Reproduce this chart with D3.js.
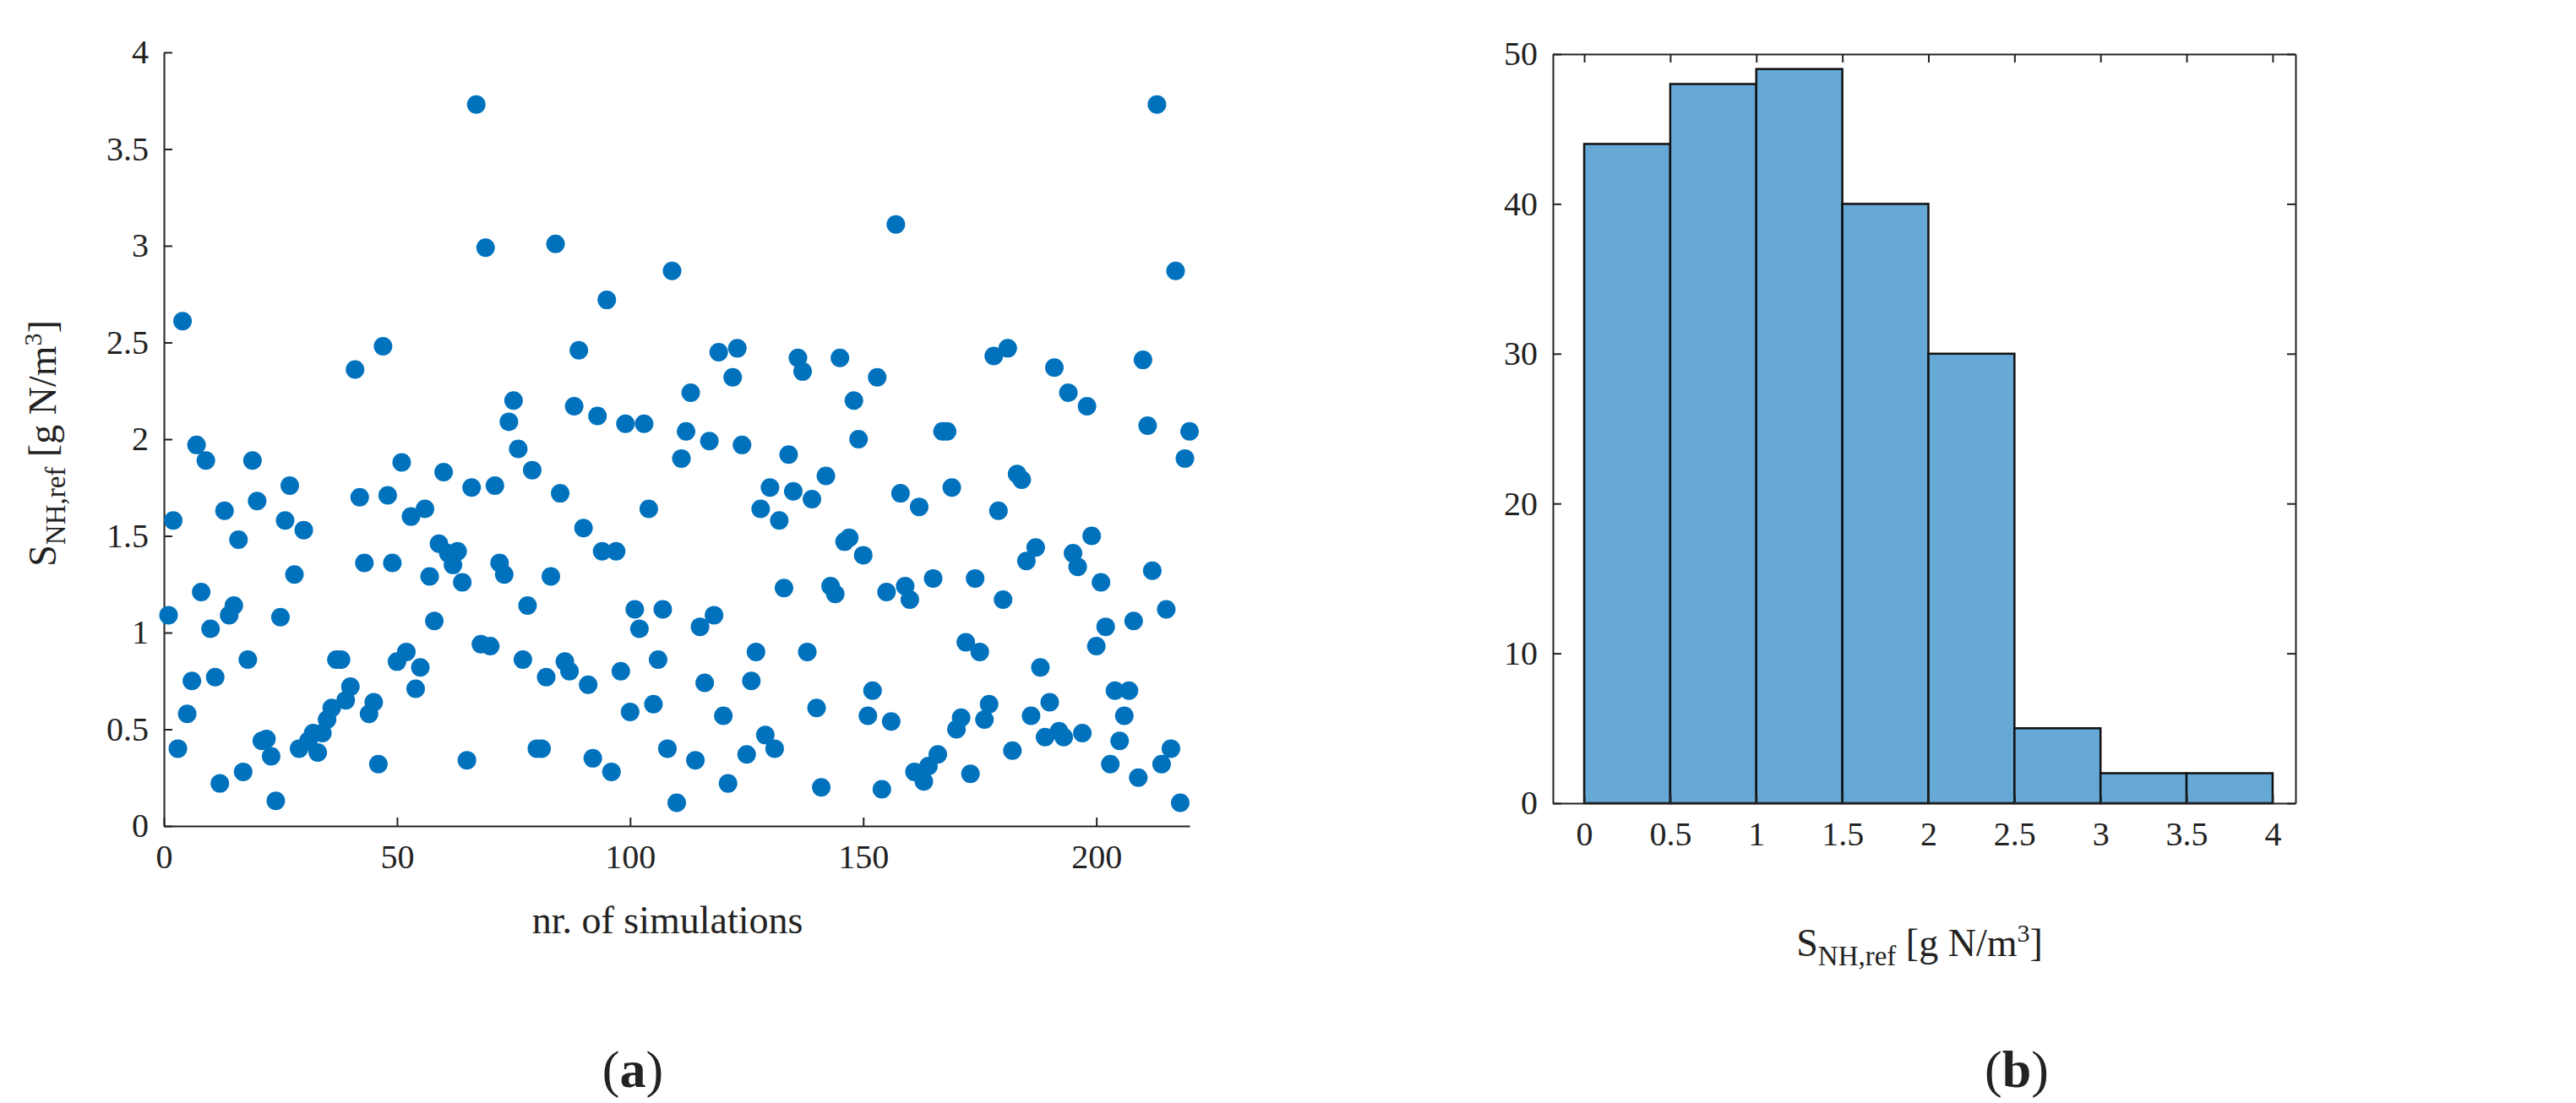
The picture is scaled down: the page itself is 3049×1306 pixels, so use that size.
<!DOCTYPE html>
<html>
<head>
<meta charset="utf-8">
<script src="https://cdn.jsdelivr.net/npm/d3@7"></script>
<style>
  body { margin: 0; background: #fff; }
  text { font-family: "Liberation Serif", "DejaVu Serif", serif; fill: #222; }
</style>
</head>
<body>
<svg width="3049" height="1306"></svg>
<script>
// S_NH,ref per simulation (index 1..220)
const simValues = [
  1.09,1.58,0.40,2.61,0.58,0.75,1.97,1.21,1.89,1.02,0.77,0.22,1.63,1.09,1.14,1.48,0.28,0.86,1.89,1.68,
  0.44,0.45,0.36,0.13,1.08,1.58,1.76,1.30,0.40,1.53,0.44,0.48,0.38,0.48,0.55,0.61,0.86,0.86,0.65,0.72,
  2.36,1.70,1.36,0.58,0.64,0.32,2.48,1.71,1.36,0.85,1.88,0.90,1.60,0.71,0.82,1.64,1.29,1.06,1.46,1.83,
  1.41,1.35,1.42,1.26,0.34,1.75,3.73,0.94,2.99,0.93,1.76,1.36,1.30,2.09,2.20,1.95,0.86,1.14,1.84,0.40,
  0.40,0.77,1.29,3.01,1.72,0.85,0.80,2.17,2.46,1.54,0.73,0.35,2.12,1.42,2.72,0.28,1.42,0.80,2.08,0.59,
  1.12,1.02,2.08,1.64,0.63,0.86,1.12,0.40,2.87,0.12,1.90,2.04,2.24,0.34,1.03,0.74,1.99,1.09,2.45,0.57,
  0.22,2.32,2.47,1.97,0.37,0.75,0.90,1.64,0.47,1.75,0.40,1.58,1.23,1.92,1.73,2.42,2.35,0.90,1.69,0.61,
  0.20,1.81,1.24,1.20,2.42,1.47,1.49,2.20,2.00,1.40,0.57,0.70,2.32,0.19,1.21,0.54,3.11,1.72,1.24,1.17,
  0.28,1.65,0.23,0.31,1.28,0.37,2.04,2.04,1.75,0.50,0.56,0.95,0.27,1.28,0.90,0.55,0.63,2.43,1.63,1.17,
  2.47,0.39,1.82,1.79,1.37,0.57,1.44,0.82,0.46,0.64,2.37,0.49,0.46,2.24,1.41,1.34,0.48,2.17,1.50,0.93,
  1.26,1.03,0.32,0.70,0.44,0.57,0.70,1.06,0.25,2.41,2.07,1.32,3.73,0.32,1.12,0.40,2.87,0.12,1.90,2.04
]
const binEdges = [0, 0.5, 1, 1.5, 2, 2.5, 3, 3.5, 4]
const binCounts = [44, 48, 49, 40, 30, 5, 2, 2]
const scatterYTicks = [0, 0.5, 1, 1.5, 2, 2.5, 3, 3.5, 4]
const scatterXTicks = [0, 50, 100, 150, 200]
const histYTicks = [0, 10, 20, 30, 40, 50]

const svg = d3.select('svg')
const fmt = d => String(d)
const tickFont = 40

// ---------- (a) scatter ----------
const xA = d3.scaleLinear().domain([0, 220]).range([194, 1408])
const yA = d3.scaleLinear().domain([0, 4]).range([978, 62])

const gA = svg.append('g')

const axA_x = gA.append('g')
    .attr('transform', `translate(0,${yA(0)})`)
    .call(d3.axisBottom(xA).tickValues(scatterXTicks).tickFormat(fmt).tickSizeInner(-10).tickSizeOuter(0).tickPadding(20))
const axA_y = gA.append('g')
    .attr('transform', `translate(${xA(0)},0)`)
    .call(d3.axisLeft(yA).tickValues(scatterYTicks).tickFormat(fmt).tickSizeInner(-10).tickSizeOuter(0).tickPadding(18))

;[axA_x, axA_y].forEach(a => {
    a.selectAll('path,line').attr('stroke', '#222').attr('stroke-width', 2)
    a.selectAll('text').attr('font-size', tickFont).attr('font-family', '"Liberation Serif", serif').attr('fill', '#222')
})
axA_x.selectAll('text').attr('dy', '0.75em')

gA.append('g').selectAll('circle')
    .data(simValues)
    .enter().append('circle')
        .attr('cx', (d, i) => xA(i + 1))
        .attr('cy', d => yA(d))
        .attr('r', 11)
        .attr('fill', '#0072BD')

const ylab = gA.append('text')
    .attr('transform', 'translate(66,525) rotate(-90)')
    .attr('text-anchor', 'middle')
    .attr('font-size', 46)
ylab.append('tspan').text('S')
ylab.append('tspan').text('NH,ref').attr('font-size', 33).attr('dy', 11)
ylab.append('tspan').text(' [g N/m').attr('dy', -11)
ylab.append('tspan').text('3').attr('font-size', 30).attr('dy', -17)
ylab.append('tspan').text(']').attr('dy', 17)

gA.append('text')
    .attr('x', 790).attr('y', 1105)
    .attr('text-anchor', 'middle')
    .attr('font-size', 46)
    .text('nr. of simulations')

const la = gA.append('text')
    .attr('x', 749).attr('y', 1287)
    .attr('text-anchor', 'middle')
    .attr('font-size', 62)
la.append('tspan').text('(')
la.append('tspan').text('a').attr('font-weight', 'bold')
la.append('tspan').text(')')

// ---------- (b) histogram ----------
const xB = d3.scaleLinear().domain([-0.182, 4.133]).range([1838, 2717])
const yB = d3.scaleLinear().domain([0, 50]).range([951, 64])

const gB = svg.append('g')

gB.append('g').selectAll('rect')
    .data(binCounts)
    .enter().append('rect')
        .attr('x', (d, i) => xB(binEdges[i]))
        .attr('y', d => yB(d))
        .attr('width', (d, i) => xB(binEdges[i + 1]) - xB(binEdges[i]))
        .attr('height', d => yB(0) - yB(d))
        .attr('fill', '#66a9d7')
        .attr('stroke', '#111')
        .attr('stroke-width', 2.5)

const axB_x = gB.append('g')
    .attr('transform', `translate(0,${yB(0)})`)
    .call(d3.axisBottom(xB).tickValues(binEdges).tickFormat(fmt).tickSizeInner(-10).tickSizeOuter(0).tickPadding(20))
const axB_top = gB.append('g')
    .attr('transform', `translate(0,${yB(50)})`)
    .call(d3.axisTop(xB).tickValues(binEdges).tickFormat('').tickSizeInner(-10).tickSizeOuter(0))
const axB_y = gB.append('g')
    .attr('transform', `translate(${xB.range()[0]},0)`)
    .call(d3.axisLeft(yB).tickValues(histYTicks).tickFormat(fmt).tickSizeInner(-10).tickSizeOuter(0).tickPadding(18))
const axB_r = gB.append('g')
    .attr('transform', `translate(${xB.range()[1]},0)`)
    .call(d3.axisRight(yB).tickValues(histYTicks).tickFormat('').tickSizeInner(-10).tickSizeOuter(0))

;[axB_x, axB_top, axB_y, axB_r].forEach(a => {
    a.selectAll('path,line').attr('stroke', '#222').attr('stroke-width', 2)
    a.selectAll('text').attr('font-size', tickFont).attr('font-family', '"Liberation Serif", serif').attr('fill', '#222')
})
axB_x.selectAll('text').attr('dy', '0.75em')

const xlabB = gB.append('text')
    .attr('x', 2272).attr('y', 1132)
    .attr('text-anchor', 'middle')
    .attr('font-size', 46)
xlabB.append('tspan').text('S')
xlabB.append('tspan').text('NH,ref').attr('font-size', 33).attr('dy', 11)
xlabB.append('tspan').text(' [g N/m').attr('dy', -11)
xlabB.append('tspan').text('3').attr('font-size', 30).attr('dy', -17)
xlabB.append('tspan').text(']').attr('dy', 17)

const lb = gB.append('text')
    .attr('x', 2387).attr('y', 1287)
    .attr('text-anchor', 'middle')
    .attr('font-size', 62)
lb.append('tspan').text('(')
lb.append('tspan').text('b').attr('font-weight', 'bold')
lb.append('tspan').text(')')
</script>
</body>
</html>
